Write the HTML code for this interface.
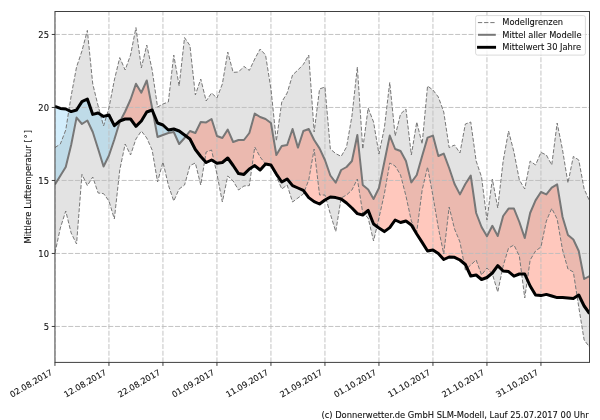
<!DOCTYPE html>
<html><head><meta charset="utf-8"><style>
html,body{margin:0;padding:0;background:#fff;}
svg{display:block;}
text{font-family:"DejaVu Sans","Liberation Sans",sans-serif;fill:#111;stroke:#111;stroke-width:0.1px;}
</style></head><body>
<svg width="600" height="420" viewBox="0 0 600 420">
<rect x="0" y="0" width="600" height="420" fill="#fff"/>
<defs><clipPath id="ax"><rect x="54.95" y="11.5" width="534.55" height="350.9"/></clipPath>
<clipPath id="band"><polygon points="54.95,147.6 60.35,144 65.75,130 71.15,96 76.55,67 81.95,51 87.35,30.4 92.75,84 98.15,106 103.55,126 108.95,108 114.35,80 119.75,57.6 125.15,70 130.55,55 135.95,27.6 141.35,68 146.75,45 152.15,70 157.55,107 162.95,104 168.35,102 173.75,55 179.15,86 184.55,37.6 189.95,45.6 195.35,95 200.75,79 206.15,101 211.55,93 216.95,98 222.35,84 227.75,52 233.15,72.4 238.55,72 243.95,66.4 249.35,70.4 254.75,59 260.15,49 265.55,55 270.95,89 276.35,141 281.75,102 287.15,93 292.55,75 297.95,70 303.35,64.4 308.75,55 314.15,132 319.55,89 324.95,87 330.35,149 335.75,153.6 341.15,156.4 346.55,147 351.95,116 357.35,67 362.75,149 368.15,108 373.55,122 378.95,154 384.35,128 389.75,82.4 395.15,136 400.55,114 405.95,109 411.35,155 416.75,122 422.15,144 427.55,86 432.95,90 438.35,97 443.75,112 449.15,147.6 454.55,145 459.95,153 465.35,124 470.75,122 476.15,161 481.55,177 486.95,220 492.35,179 497.75,208 503.15,161 508.55,131 513.95,152 519.35,180 524.75,189 530.15,161 535.55,165 540.95,152.4 546.35,155 551.75,165 557.15,123 562.55,150 567.95,183 573.35,156.4 578.75,160 584.15,189 589.55,201 589.55,347 584.15,340 578.75,307 573.35,272 567.95,269 562.55,250 557.15,219 551.75,208.4 546.35,221 540.95,247 535.55,251 530.15,260 524.75,298 519.35,256 513.95,245 508.55,248 503.15,266 497.75,292 492.35,274 486.95,268 481.55,275 476.15,260 470.75,265 465.35,270 459.95,242 454.55,229 449.15,207 443.75,254 438.35,228 432.95,196 427.55,167 422.15,190 416.75,232 411.35,221 405.95,196 400.55,175 395.15,166 389.75,163 384.35,194 378.95,218 373.55,241 368.15,218 362.75,213 357.35,179 351.95,190 346.55,195 341.15,198 335.75,231.6 330.35,214 324.95,195 319.55,195 314.15,149 308.75,180 303.35,194 297.95,198 292.55,202 287.15,185 281.75,189 276.35,176 270.95,166 265.55,164 260.15,157 254.75,147 249.35,185.6 243.95,186 238.55,190 233.15,181 227.75,176 222.35,202 216.95,174 211.55,150 206.15,152 200.75,185 195.35,163 189.95,165.6 184.55,185 179.15,189 173.75,201 168.35,185 162.95,162 157.55,182 152.15,150 146.75,138 141.35,131 135.95,139 130.55,155 125.15,144 119.75,170 114.35,219 108.95,201 103.55,193.6 98.15,193 92.75,177 87.35,185.6 81.95,174.4 76.55,244 71.15,233 65.75,211 60.35,228 54.95,253"/></clipPath></defs>

<g clip-path="url(#ax)">
<polygon points="120.39,120.76 125.15,111.5 130.55,99.5 135.95,83.8 141.35,92.7 146.75,80.5 152.15,108 152.83,111.62 152.83,111.62 152.15,110 146.75,112 141.35,121 135.95,126.4 130.55,119 125.15,119 120.39,120.76" fill="#ffc8bd"/>
<polygon points="186.02,136.09 189.95,131 195.35,133 200.75,122 206.15,122.4 211.55,119 216.95,136 222.35,138 227.75,129.6 233.15,142 238.55,140 243.95,140 249.35,133 254.75,113.6 260.15,117 265.55,119 270.95,123 276.35,155 281.75,146 287.15,145 292.55,129 297.95,147.6 303.35,131 308.75,129 314.15,140 319.55,148.4 324.95,160 330.35,175.5 335.75,182.7 341.15,170 346.55,167 351.95,161 357.35,135 362.75,185 368.15,189.5 373.55,199 378.95,188 384.35,162 389.75,135.6 395.15,149 400.55,151 405.95,161 411.35,182.4 416.75,175 422.15,156 427.55,137.6 432.95,135.6 438.35,156 443.75,153.6 449.15,168 454.55,184 459.95,194.4 465.35,184 470.75,175.6 476.15,213 481.55,227 486.95,236.2 492.35,225.8 497.75,236 503.15,216 508.55,208.6 513.95,208.6 519.35,222 524.75,238 530.15,213 535.55,200.4 540.95,192 546.35,194.4 551.75,187.6 557.15,184.4 562.55,217 567.95,235 573.35,239.5 578.75,251 584.15,279 589.55,276 589.55,313.5 584.15,306 578.75,295 573.35,298.4 567.95,298 562.55,297.6 557.15,297.6 551.75,296 546.35,294.4 540.95,295.6 535.55,295 530.15,286 524.75,274 519.35,274 513.95,276.2 508.55,271.6 503.15,271 497.75,265.6 492.35,273 486.95,277.5 481.55,279.5 476.15,275 470.75,276 465.35,264.5 459.95,260 454.55,257.3 449.15,257 443.75,259.5 438.35,253.5 432.95,250 427.55,251 422.15,242.4 416.75,234 411.35,225 405.95,221 400.55,222.5 395.15,220 389.75,227.6 384.35,231.6 378.95,228 373.55,224 368.15,210.4 362.75,215 357.35,213.6 351.95,208 346.55,203 341.15,199 335.75,197.6 330.35,197 324.95,200 319.55,204 314.15,201.6 308.75,197.6 303.35,190.4 297.95,188 292.55,185.6 287.15,179 281.75,182 276.35,174 270.95,165 265.55,164 260.15,170 254.75,165.6 249.35,169 243.95,174.4 238.55,173.6 233.15,165.5 227.75,158 222.35,162.5 216.95,163.3 211.55,160 206.15,162.5 200.75,156.5 195.35,149.5 189.95,139 186.02,136.09" fill="#ffc8bd"/>
<polygon points="54.95,184.5 60.35,175.7 65.75,167 71.15,145 76.55,117.6 81.95,124 87.35,120.5 92.75,132 98.15,149 103.55,166.5 108.95,155.5 114.35,139.5 119.75,122 120.39,120.76 120.39,120.76 119.75,121 114.35,125.6 108.95,115 103.55,116.4 98.15,113 92.75,114.4 87.35,99 81.95,101.6 76.55,110 71.15,111.6 65.75,109 60.35,108.4 54.95,106.4" fill="#d3eefc"/>
<polygon points="152.83,111.62 157.55,137 162.95,135 168.35,133 173.75,132 179.15,144 184.55,138 186.02,136.09 186.02,136.09 184.55,135 179.15,131 173.75,129 168.35,130 162.95,125 157.55,123 152.83,111.62" fill="#d3eefc"/>
<polygon points="54.95,147.6 60.35,144 65.75,130 71.15,96 76.55,67 81.95,51 87.35,30.4 92.75,84 98.15,106 103.55,126 108.95,108 114.35,80 119.75,57.6 125.15,70 130.55,55 135.95,27.6 141.35,68 146.75,45 152.15,70 157.55,107 162.95,104 168.35,102 173.75,55 179.15,86 184.55,37.6 189.95,45.6 195.35,95 200.75,79 206.15,101 211.55,93 216.95,98 222.35,84 227.75,52 233.15,72.4 238.55,72 243.95,66.4 249.35,70.4 254.75,59 260.15,49 265.55,55 270.95,89 276.35,141 281.75,102 287.15,93 292.55,75 297.95,70 303.35,64.4 308.75,55 314.15,132 319.55,89 324.95,87 330.35,149 335.75,153.6 341.15,156.4 346.55,147 351.95,116 357.35,67 362.75,149 368.15,108 373.55,122 378.95,154 384.35,128 389.75,82.4 395.15,136 400.55,114 405.95,109 411.35,155 416.75,122 422.15,144 427.55,86 432.95,90 438.35,97 443.75,112 449.15,147.6 454.55,145 459.95,153 465.35,124 470.75,122 476.15,161 481.55,177 486.95,220 492.35,179 497.75,208 503.15,161 508.55,131 513.95,152 519.35,180 524.75,189 530.15,161 535.55,165 540.95,152.4 546.35,155 551.75,165 557.15,123 562.55,150 567.95,183 573.35,156.4 578.75,160 584.15,189 589.55,201 589.55,347 584.15,340 578.75,307 573.35,272 567.95,269 562.55,250 557.15,219 551.75,208.4 546.35,221 540.95,247 535.55,251 530.15,260 524.75,298 519.35,256 513.95,245 508.55,248 503.15,266 497.75,292 492.35,274 486.95,268 481.55,275 476.15,260 470.75,265 465.35,270 459.95,242 454.55,229 449.15,207 443.75,254 438.35,228 432.95,196 427.55,167 422.15,190 416.75,232 411.35,221 405.95,196 400.55,175 395.15,166 389.75,163 384.35,194 378.95,218 373.55,241 368.15,218 362.75,213 357.35,179 351.95,190 346.55,195 341.15,198 335.75,231.6 330.35,214 324.95,195 319.55,195 314.15,149 308.75,180 303.35,194 297.95,198 292.55,202 287.15,185 281.75,189 276.35,176 270.95,166 265.55,164 260.15,157 254.75,147 249.35,185.6 243.95,186 238.55,190 233.15,181 227.75,176 222.35,202 216.95,174 211.55,150 206.15,152 200.75,185 195.35,163 189.95,165.6 184.55,185 179.15,189 173.75,201 168.35,185 162.95,162 157.55,182 152.15,150 146.75,138 141.35,131 135.95,139 130.55,155 125.15,144 119.75,170 114.35,219 108.95,201 103.55,193.6 98.15,193 92.75,177 87.35,185.6 81.95,174.4 76.55,244 71.15,233 65.75,211 60.35,228 54.95,253" fill="#e3e3e3"/>
<g clip-path="url(#band)">
<polygon points="120.39,120.76 125.15,111.5 130.55,99.5 135.95,83.8 141.35,92.7 146.75,80.5 152.15,108 152.83,111.62 152.83,111.62 152.15,110 146.75,112 141.35,121 135.95,126.4 130.55,119 125.15,119 120.39,120.76" fill="#ebb9af"/>
<polygon points="186.02,136.09 189.95,131 195.35,133 200.75,122 206.15,122.4 211.55,119 216.95,136 222.35,138 227.75,129.6 233.15,142 238.55,140 243.95,140 249.35,133 254.75,113.6 260.15,117 265.55,119 270.95,123 276.35,155 281.75,146 287.15,145 292.55,129 297.95,147.6 303.35,131 308.75,129 314.15,140 319.55,148.4 324.95,160 330.35,175.5 335.75,182.7 341.15,170 346.55,167 351.95,161 357.35,135 362.75,185 368.15,189.5 373.55,199 378.95,188 384.35,162 389.75,135.6 395.15,149 400.55,151 405.95,161 411.35,182.4 416.75,175 422.15,156 427.55,137.6 432.95,135.6 438.35,156 443.75,153.6 449.15,168 454.55,184 459.95,194.4 465.35,184 470.75,175.6 476.15,213 481.55,227 486.95,236.2 492.35,225.8 497.75,236 503.15,216 508.55,208.6 513.95,208.6 519.35,222 524.75,238 530.15,213 535.55,200.4 540.95,192 546.35,194.4 551.75,187.6 557.15,184.4 562.55,217 567.95,235 573.35,239.5 578.75,251 584.15,279 589.55,276 589.55,313.5 584.15,306 578.75,295 573.35,298.4 567.95,298 562.55,297.6 557.15,297.6 551.75,296 546.35,294.4 540.95,295.6 535.55,295 530.15,286 524.75,274 519.35,274 513.95,276.2 508.55,271.6 503.15,271 497.75,265.6 492.35,273 486.95,277.5 481.55,279.5 476.15,275 470.75,276 465.35,264.5 459.95,260 454.55,257.3 449.15,257 443.75,259.5 438.35,253.5 432.95,250 427.55,251 422.15,242.4 416.75,234 411.35,225 405.95,221 400.55,222.5 395.15,220 389.75,227.6 384.35,231.6 378.95,228 373.55,224 368.15,210.4 362.75,215 357.35,213.6 351.95,208 346.55,203 341.15,199 335.75,197.6 330.35,197 324.95,200 319.55,204 314.15,201.6 308.75,197.6 303.35,190.4 297.95,188 292.55,185.6 287.15,179 281.75,182 276.35,174 270.95,165 265.55,164 260.15,170 254.75,165.6 249.35,169 243.95,174.4 238.55,173.6 233.15,165.5 227.75,158 222.35,162.5 216.95,163.3 211.55,160 206.15,162.5 200.75,156.5 195.35,149.5 189.95,139 186.02,136.09" fill="#ebb9af"/>
<polygon points="54.95,184.5 60.35,175.7 65.75,167 71.15,145 76.55,117.6 81.95,124 87.35,120.5 92.75,132 98.15,149 103.55,166.5 108.95,155.5 114.35,139.5 119.75,122 120.39,120.76 120.39,120.76 119.75,121 114.35,125.6 108.95,115 103.55,116.4 98.15,113 92.75,114.4 87.35,99 81.95,101.6 76.55,110 71.15,111.6 65.75,109 60.35,108.4 54.95,106.4" fill="#bfdbe8"/>
<polygon points="152.83,111.62 157.55,137 162.95,135 168.35,133 173.75,132 179.15,144 184.55,138 186.02,136.09 186.02,136.09 184.55,135 179.15,131 173.75,129 168.35,130 162.95,125 157.55,123 152.83,111.62" fill="#bfdbe8"/>
</g>
<path d="M54.95 362.4V11.5M108.95 362.4V11.5M162.95 362.4V11.5M216.95 362.4V11.5M270.95 362.4V11.5M324.95 362.4V11.5M378.95 362.4V11.5M432.95 362.4V11.5M486.95 362.4V11.5M540.95 362.4V11.5M54.95 326.46H589.5M54.95 253.46H589.5M54.95 180.46H589.5M54.95 107.46H589.5M54.95 34.46H589.5" stroke="#bdbdbd" stroke-width="0.9" stroke-dasharray="5 1.67" fill="none"/>
<polyline points="54.95,147.6 60.35,144 65.75,130 71.15,96 76.55,67 81.95,51 87.35,30.4 92.75,84 98.15,106 103.55,126 108.95,108 114.35,80 119.75,57.6 125.15,70 130.55,55 135.95,27.6 141.35,68 146.75,45 152.15,70 157.55,107 162.95,104 168.35,102 173.75,55 179.15,86 184.55,37.6 189.95,45.6 195.35,95 200.75,79 206.15,101 211.55,93 216.95,98 222.35,84 227.75,52 233.15,72.4 238.55,72 243.95,66.4 249.35,70.4 254.75,59 260.15,49 265.55,55 270.95,89 276.35,141 281.75,102 287.15,93 292.55,75 297.95,70 303.35,64.4 308.75,55 314.15,132 319.55,89 324.95,87 330.35,149 335.75,153.6 341.15,156.4 346.55,147 351.95,116 357.35,67 362.75,149 368.15,108 373.55,122 378.95,154 384.35,128 389.75,82.4 395.15,136 400.55,114 405.95,109 411.35,155 416.75,122 422.15,144 427.55,86 432.95,90 438.35,97 443.75,112 449.15,147.6 454.55,145 459.95,153 465.35,124 470.75,122 476.15,161 481.55,177 486.95,220 492.35,179 497.75,208 503.15,161 508.55,131 513.95,152 519.35,180 524.75,189 530.15,161 535.55,165 540.95,152.4 546.35,155 551.75,165 557.15,123 562.55,150 567.95,183 573.35,156.4 578.75,160 584.15,189 589.55,201" fill="none" stroke="#777777" stroke-width="1" stroke-dasharray="4 1.8"/>
<polyline points="54.95,253 60.35,228 65.75,211 71.15,233 76.55,244 81.95,174.4 87.35,185.6 92.75,177 98.15,193 103.55,193.6 108.95,201 114.35,219 119.75,170 125.15,144 130.55,155 135.95,139 141.35,131 146.75,138 152.15,150 157.55,182 162.95,162 168.35,185 173.75,201 179.15,189 184.55,185 189.95,165.6 195.35,163 200.75,185 206.15,152 211.55,150 216.95,174 222.35,202 227.75,176 233.15,181 238.55,190 243.95,186 249.35,185.6 254.75,147 260.15,157 265.55,164 270.95,166 276.35,176 281.75,189 287.15,185 292.55,202 297.95,198 303.35,194 308.75,180 314.15,149 319.55,195 324.95,195 330.35,214 335.75,231.6 341.15,198 346.55,195 351.95,190 357.35,179 362.75,213 368.15,218 373.55,241 378.95,218 384.35,194 389.75,163 395.15,166 400.55,175 405.95,196 411.35,221 416.75,232 422.15,190 427.55,167 432.95,196 438.35,228 443.75,254 449.15,207 454.55,229 459.95,242 465.35,270 470.75,265 476.15,260 481.55,275 486.95,268 492.35,274 497.75,292 503.15,266 508.55,248 513.95,245 519.35,256 524.75,298 530.15,260 535.55,251 540.95,247 546.35,221 551.75,208.4 557.15,219 562.55,250 567.95,269 573.35,272 578.75,307 584.15,340 589.55,347" fill="none" stroke="#777777" stroke-width="1" stroke-dasharray="4 1.8"/>
<polyline points="54.95,184.5 60.35,175.7 65.75,167 71.15,145 76.55,117.6 81.95,124 87.35,120.5 92.75,132 98.15,149 103.55,166.5 108.95,155.5 114.35,139.5 119.75,122 125.15,111.5 130.55,99.5 135.95,83.8 141.35,92.7 146.75,80.5 152.15,108 157.55,137 162.95,135 168.35,133 173.75,132 179.15,144 184.55,138 189.95,131 195.35,133 200.75,122 206.15,122.4 211.55,119 216.95,136 222.35,138 227.75,129.6 233.15,142 238.55,140 243.95,140 249.35,133 254.75,113.6 260.15,117 265.55,119 270.95,123 276.35,155 281.75,146 287.15,145 292.55,129 297.95,147.6 303.35,131 308.75,129 314.15,140 319.55,148.4 324.95,160 330.35,175.5 335.75,182.7 341.15,170 346.55,167 351.95,161 357.35,135 362.75,185 368.15,189.5 373.55,199 378.95,188 384.35,162 389.75,135.6 395.15,149 400.55,151 405.95,161 411.35,182.4 416.75,175 422.15,156 427.55,137.6 432.95,135.6 438.35,156 443.75,153.6 449.15,168 454.55,184 459.95,194.4 465.35,184 470.75,175.6 476.15,213 481.55,227 486.95,236.2 492.35,225.8 497.75,236 503.15,216 508.55,208.6 513.95,208.6 519.35,222 524.75,238 530.15,213 535.55,200.4 540.95,192 546.35,194.4 551.75,187.6 557.15,184.4 562.55,217 567.95,235 573.35,239.5 578.75,251 584.15,279 589.55,276" fill="none" stroke="#777777" stroke-width="2" stroke-linejoin="round"/>
<polyline points="54.95,106.4 60.35,108.4 65.75,109 71.15,111.6 76.55,110 81.95,101.6 87.35,99 92.75,114.4 98.15,113 103.55,116.4 108.95,115 114.35,125.6 119.75,121 125.15,119 130.55,119 135.95,126.4 141.35,121 146.75,112 152.15,110 157.55,123 162.95,125 168.35,130 173.75,129 179.15,131 184.55,135 189.95,139 195.35,149.5 200.75,156.5 206.15,162.5 211.55,160 216.95,163.3 222.35,162.5 227.75,158 233.15,165.5 238.55,173.6 243.95,174.4 249.35,169 254.75,165.6 260.15,170 265.55,164 270.95,165 276.35,174 281.75,182 287.15,179 292.55,185.6 297.95,188 303.35,190.4 308.75,197.6 314.15,201.6 319.55,204 324.95,200 330.35,197 335.75,197.6 341.15,199 346.55,203 351.95,208 357.35,213.6 362.75,215 368.15,210.4 373.55,224 378.95,228 384.35,231.6 389.75,227.6 395.15,220 400.55,222.5 405.95,221 411.35,225 416.75,234 422.15,242.4 427.55,251 432.95,250 438.35,253.5 443.75,259.5 449.15,257 454.55,257.3 459.95,260 465.35,264.5 470.75,276 476.15,275 481.55,279.5 486.95,277.5 492.35,273 497.75,265.6 503.15,271 508.55,271.6 513.95,276.2 519.35,274 524.75,274 530.15,286 535.55,295 540.95,295.6 546.35,294.4 551.75,296 557.15,297.6 562.55,297.6 567.95,298 573.35,298.4 578.75,295 584.15,306 589.55,313.5" fill="none" stroke="#000" stroke-width="3" stroke-linejoin="round"/>
</g>
<rect x="54.95" y="11.5" width="534.55" height="350.9" fill="none" stroke="#404040" stroke-width="1"/>
<path d="M51.75 326.46H54.95M51.75 253.46H54.95M51.75 180.46H54.95M51.75 107.46H54.95M51.75 34.46H54.95M54.95 362.4V365.9M108.95 362.4V365.9M162.95 362.4V365.9M216.95 362.4V365.9M270.95 362.4V365.9M324.95 362.4V365.9M378.95 362.4V365.9M432.95 362.4V365.9M486.95 362.4V365.9M540.95 362.4V365.9" stroke="#262626" stroke-width="0.9" fill="none"/>
<text x="49.0" y="329.76" font-size="8.4" text-anchor="end">5</text>
<text x="49.0" y="256.76" font-size="8.4" text-anchor="end">10</text>
<text x="49.0" y="183.76" font-size="8.4" text-anchor="end">15</text>
<text x="49.0" y="110.76" font-size="8.4" text-anchor="end">20</text>
<text x="49.0" y="37.76" font-size="8.4" text-anchor="end">25</text>
<text transform="translate(30.7 186.8) rotate(-90)" font-size="8.4" text-anchor="middle">Mittlere Lufttemperatur [<tspan dx="0.9">&#176;</tspan><tspan dx="0.9">]</tspan></text>
<text transform="translate(53.05 374) rotate(-30)" font-size="8.3" text-anchor="end">02.08.2017</text>
<text transform="translate(107.05 374) rotate(-30)" font-size="8.3" text-anchor="end">12.08.2017</text>
<text transform="translate(161.05 374) rotate(-30)" font-size="8.3" text-anchor="end">22.08.2017</text>
<text transform="translate(215.05 374) rotate(-30)" font-size="8.3" text-anchor="end">01.09.2017</text>
<text transform="translate(269.05 374) rotate(-30)" font-size="8.3" text-anchor="end">11.09.2017</text>
<text transform="translate(323.05 374) rotate(-30)" font-size="8.3" text-anchor="end">21.09.2017</text>
<text transform="translate(377.05 374) rotate(-30)" font-size="8.3" text-anchor="end">01.10.2017</text>
<text transform="translate(431.05 374) rotate(-30)" font-size="8.3" text-anchor="end">11.10.2017</text>
<text transform="translate(485.05 374) rotate(-30)" font-size="8.3" text-anchor="end">21.10.2017</text>
<text transform="translate(539.05 374) rotate(-30)" font-size="8.3" text-anchor="end">31.10.2017</text>
<rect x="475.6" y="15.6" width="109.8" height="39.5" rx="2" ry="2" fill="#fff" fill-opacity="0.8" stroke="#d0d0d0" stroke-width="0.8"/>
<path d="M477.9 22.6H496" stroke="#777777" stroke-width="1" stroke-dasharray="4.3 1.9"/>
<path d="M479 34.8H494.8" stroke="#777777" stroke-width="2" stroke-linecap="square"/>
<path d="M478.5 47.3H494.6" stroke="#000" stroke-width="2.9" stroke-linecap="square"/>
<text x="502.3" y="25.2" font-size="8.3">Modellgrenzen</text>
<text x="502.3" y="37.7" font-size="8.3">Mittel aller Modelle</text>
<text x="502.3" y="50.2" font-size="8.3">Mittelwert 30 Jahre</text>
<text x="588.7" y="417.9" font-size="8.35" text-anchor="end">(c) Donnerwetter.de GmbH SLM-Modell, Lauf 25.07.2017 00 Uhr</text>
</svg>
</body></html>
